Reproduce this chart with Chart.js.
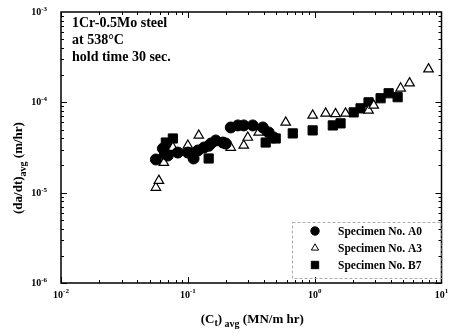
<!DOCTYPE html>
<html>
<head>
<meta charset="utf-8">
<script src="https://cdn.jsdelivr.net/npm/chart.js@4/dist/chart.umd.min.js"></script>
<style>
  body { margin: 0; background: #fff; }
  #chart { display: block; }
</style>
</head>
<body>
<canvas id="chart" width="449" height="335"></canvas>
<script>
// values
let a0X = [0.056, 0.0636, 0.066, 0.0696, 0.0834, 0.1, 0.111, 0.12, 0.134, 0.146, 0.152, 0.166, 0.189, 0.199, 0.218, 0.248, 0.276, 0.325, 0.39, 0.434, 0.475]
let a0Y = [2.33e-5, 3.08e-5, 2.7e-5, 2.58e-5, 2.78e-5, 2.78e-5, 2.39e-5, 2.93e-5, 3.16e-5, 3.3e-5, 3.5e-5, 3.78e-5, 3.59e-5, 3.5e-5, 5.27e-5, 5.55e-5, 5.55e-5, 5.55e-5, 5.27e-5, 4.64e-5, 4.08e-5]

let a3X = [0.056, 0.0591, 0.0647, 0.0762, 0.1, 0.122, 0.21, 0.218, 0.276, 0.297, 0.362, 0.591, 0.964, 1.22, 1.46, 1.75, 2.66, 2.92, 4.76, 5.6, 7.9]
let a3Y = [1.14e-5, 1.36e-5, 2.15e-5, 3.16e-5, 3.33e-5, 4.3e-5, 3.33e-5, 3.16e-5, 3.33e-5, 4.08e-5, 4.64e-5, 6.0e-5, 7.17e-5, 7.55e-5, 7.45e-5, 7.55e-5, 8.15e-5, 9.26e-5, 1.43e-4, 1.63e-4, 2.33e-4]

let b7X = [0.0671, 0.0762, 0.0700, 0.146, 0.411, 0.493, 0.672, 0.964, 1.39, 1.6, 2.03, 2.3, 2.66, 3.31, 3.83, 4.51]
let b7Y = [3.59e-5, 3.98e-5, 3.1e-5, 2.39e-5, 3.59e-5, 3.98e-5, 4.53e-5, 4.89e-5, 5.55e-5, 5.85e-5, 7.74e-5, 8.58e-5, 1.0e-4, 1.11e-4, 1.26e-4, 1.14e-4]

let seriesNames = ["Specimen No. A0", "Specimen No. A3", "Specimen No. B7"]
let xExps = [-2, -1, 0, 1]
let yExps = [-6, -5, -4, -3]
let noteLines = ["1Cr-0.5Mo steel", "at 538°C", "hold time 30 sec."]

function pts(xs, ys) {
    return xs.map((x, i) => ({ x: x, y: ys[i] }))
}

const serif = '"Liberation Serif", "DejaVu Serif", serif'

// frame, inward ticks, labels, titles, note and legend
let decor = {
    id: "decor",
    afterDraw(chart) {
        let ctx = chart.ctx
        let ca = chart.chartArea
        let xs = chart.scales.x
        let ys = chart.scales.y
        ctx.save()
        ctx.strokeStyle = "#000"
        ctx.lineWidth = 1.5
        ctx.strokeRect(ca.left, ca.top, ca.right - ca.left, ca.bottom - ca.top)

        ctx.lineWidth = 1
        ctx.beginPath()
        for (let e = xExps[0]; e < xExps[xExps.length - 1]; e++) {
            for (let m = 1; m <= 9; m++) {
                let px = Math.round(xs.getPixelForValue(m * Math.pow(10, e))) + 0.5
                let len = m == 1 ? 6 : 3
                ctx.moveTo(px, ca.bottom); ctx.lineTo(px, ca.bottom - len)
                ctx.moveTo(px, ca.top); ctx.lineTo(px, ca.top + len)
            }
        }
        for (let e = yExps[0]; e < yExps[yExps.length - 1]; e++) {
            for (let m = 1; m <= 9; m++) {
                let py = Math.round(ys.getPixelForValue(m * Math.pow(10, e))) + 0.5
                let len = m == 1 ? 6 : 3
                ctx.moveTo(ca.left, py); ctx.lineTo(ca.left + len, py)
                ctx.moveTo(ca.right, py); ctx.lineTo(ca.right - len, py)
            }
        }
        ctx.stroke()

        // tick labels 10^n
        ctx.fillStyle = "#000"
        ctx.textBaseline = "alphabetic"
        xExps.forEach(e => {
            let px = xs.getPixelForValue(Math.pow(10, e))
            ctx.font = "bold 10px " + serif
            let w1 = ctx.measureText("10").width
            ctx.font = "bold 7px " + serif
            let w2 = ctx.measureText(String(e)).width
            let x0 = px - (w1 + w2) / 2
            ctx.font = "bold 10px " + serif
            ctx.textAlign = "left"
            ctx.fillText("10", x0, ca.bottom + 15)
            ctx.font = "bold 7px " + serif
            ctx.fillText(String(e), x0 + w1, ca.bottom + 10)
        })
        yExps.forEach(e => {
            let py = ys.getPixelForValue(Math.pow(10, e))
            ctx.font = "bold 7px " + serif
            let w2 = ctx.measureText(String(e)).width
            let right = ca.left - 14
            ctx.textAlign = "right"
            ctx.fillText(String(e), right, py - 1)
            ctx.font = "bold 10px " + serif
            ctx.fillText("10", right - w2, py + 3)
        })

        // x title
        let parts = [["(C", 13, 0], ["t", 10, 3], [")", 13, 0], [" avg", 10, 4], [" (MN/m hr)", 13, 0]]
        drawParts(ctx, parts, (ca.left + ca.right) / 2 + 1, 323)

        // y title
        ctx.save()
        ctx.translate(22, 168)
        ctx.rotate(-Math.PI / 2)
        drawParts(ctx, [["(da/dt)", 13, 0], ["avg", 10, 4], [" (m/hr)", 13, 0]], 0, 0)
        ctx.restore()

        // note
        ctx.font = "bold 14px " + serif
        ctx.textAlign = "left"
        noteLines.forEach((t, i) => ctx.fillText(t, ca.left + 11, 27 + i * 17))

        // legend
        let lx = 292, ly = 222, lw = ca.right - lx, lh = 56
        ctx.strokeStyle = "#aaa"
        ctx.setLineDash([3, 2])
        ctx.strokeRect(lx + 0.5, ly + 0.5, lw, lh)
        ctx.setLineDash([])
        chart.data.datasets.forEach((ds, i) => {
            let cy = ly + 9 + i * 17
            ctx.strokeStyle = "#000"
            ctx.fillStyle = ds.backgroundColor
            ctx.lineWidth = 1
            Chart.helpers.drawPoint(ctx, { pointStyle: ds.pointStyle, radius: ds.pointRadius - 1.3, borderWidth: 1 }, lx + 23, cy)
            ctx.fillStyle = "#000"
            ctx.font = "bold 11.5px " + serif
            ctx.textAlign = "left"
            ctx.fillText(ds.label, lx + 46, cy + 4)
        })
        ctx.restore()
    }
}

function drawParts(ctx, parts, cx, baseY) {
    let total = 0
    parts.forEach(p => { ctx.font = "bold " + p[1] + "px " + serif; total += ctx.measureText(p[0]).width })
    let x = cx - total / 2
    ctx.textAlign = "left"
    ctx.fillStyle = "#000"
    parts.forEach(p => {
        ctx.font = "bold " + p[1] + "px " + serif
        ctx.fillText(p[0], x, baseY + p[2])
        x += ctx.measureText(p[0]).width
    })
}

let config = {
    type: "scatter",
    data: {
        datasets: [
            {
                label: seriesNames[0],
                data: pts(a0X, a0Y),
                pointStyle: "circle",
                pointRadius: 5.5,
                backgroundColor: "#000",
                borderColor: "#000",
                borderWidth: 1
            },
            {
                label: seriesNames[1],
                data: pts(a3X, a3Y),
                pointStyle: "triangle",
                pointRadius: 5.5,
                backgroundColor: "#fff",
                borderColor: "#000",
                borderWidth: 1.2
            },
            {
                label: seriesNames[2],
                data: pts(b7X, b7Y),
                pointStyle: "rect",
                pointRadius: 6.5,
                backgroundColor: "#000",
                borderColor: "#000",
                borderWidth: 1
            }
        ]
    },
    options: {
        responsive: false,
        animation: false,
        layout: { padding: { left: 61, top: 12, right: 6, bottom: 52 } },
        plugins: {
            legend: { display: false },
            tooltip: { enabled: false }
        },
        scales: {
            x: { type: "logarithmic", min: 0.01, max: 10, display: false },
            y: { type: "logarithmic", min: 1e-6, max: 1e-3, display: false }
        }
    },
    plugins: [decor]
}

let chart = new Chart(document.getElementById("chart"), config)
</script>
</body>
</html>
